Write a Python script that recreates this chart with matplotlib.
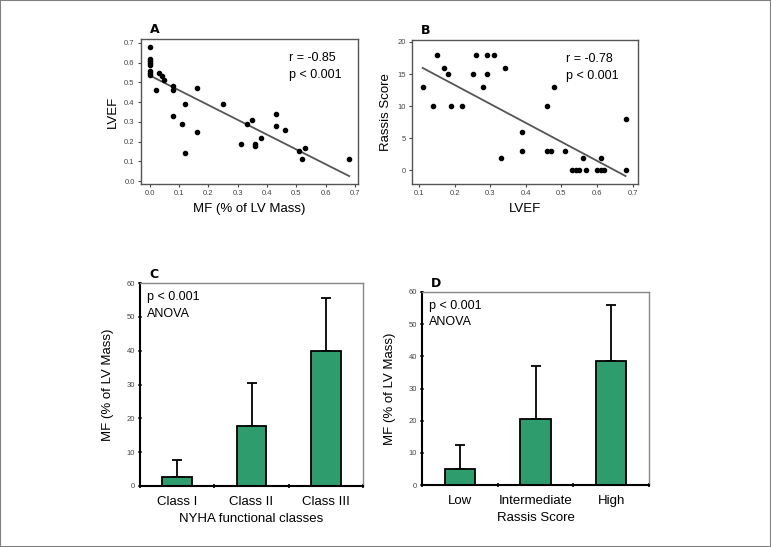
import matplotlib
matplotlib.use("Agg")
from matplotlib import pyplot as plt
from matplotlib.patches import Rectangle
import numpy as np

plt.rcParams['font.family'] = ['Liberation Sans Narrow', 'Liberation Sans', 'DejaVu Sans']

# panel A: MF vs LVEF
mf_a = [0, 0, 0, 0, 0, 0, 0, 0, 0.03, 0.04, 0.05, 0.02, 0.08, 0.08, 0.16, 0.12,
        0.08, 0.11, 0.16, 0.12, 0.25, 0.35, 0.33, 0.31, 0.36, 0.36, 0.38, 0.43,
        0.43, 0.46, 0.51, 0.52, 0.53, 0.68]
lvef_a = [0.68, 0.62, 0.61, 0.60, 0.59, 0.56, 0.55, 0.54, 0.55, 0.53, 0.51, 0.46,
          0.48, 0.46, 0.47, 0.39, 0.33, 0.29, 0.25, 0.14, 0.39, 0.31, 0.29, 0.19,
          0.19, 0.18, 0.22, 0.34, 0.28, 0.26, 0.15, 0.11, 0.17, 0.11]
fit_a = [0.535, -0.75]  # intercept, slope

# panel B: LVEF vs Rassis score
lvef_b = [0.11, 0.14, 0.15, 0.17, 0.18, 0.19, 0.22, 0.25, 0.26, 0.28, 0.29, 0.29,
          0.31, 0.33, 0.34, 0.39, 0.39, 0.46, 0.46, 0.47, 0.48, 0.51, 0.53, 0.54,
          0.55, 0.56, 0.57, 0.60, 0.61, 0.61, 0.62, 0.68, 0.68]
rassis_b = [13, 10, 18, 16, 15, 10, 10, 15, 18, 13, 18, 15, 18, 2, 16, 6, 3, 10, 3,
            3, 13, 3, 0, 0, 0, 2, 0, 0, 0, 2, 0, 8, 0]
fit_b = [19.2, -29.5]

# panel C
nyha = ['Class I', 'Class II', 'Class III']
mf_nyha = [2.7, 17.7, 40.0]
sd_nyha = [5.0, 12.8, 15.5]

# panel D
rassis_cls = ['Low', 'Intermediate', 'High']
mf_rassis = [5.0, 20.5, 38.5]
sd_rassis = [7.5, 16.5, 17.5]

W, H = 771, 547
fig = plt.figure(figsize=(W / 100, H / 100), dpi=100)
fig.patches.append(Rectangle((0, 0), 1, 1, transform=fig.transFigure, fill=False,
                             edgecolor='#808080', lw=1.5))


def box(l, t, r, b):
    return fig.add_axes([l / W, 1 - b / H, (r - l) / W, (b - t) / H])


green = '#2f9c6e'
gray = '#555555'
fs = 9


def scatter_panel(ax, x, y, fit, xr, letter, r, xlim, ylim, xt, yt, xl, yl, xfmt, yfmt):
    ax.scatter(x, y, s=9, color='black', zorder=3)
    xx = np.array(xr)
    ax.plot(xx, fit[0] + fit[1] * xx, color=gray, lw=1.3)
    ax.set_xlim(*xlim)
    ax.set_ylim(*ylim)
    ax.set_xticks(xt)
    ax.set_yticks(yt)
    ax.set_xticklabels([xfmt.format(v) for v in xt])
    ax.set_yticklabels([yfmt.format(v) for v in yt])
    for s in ax.spines.values():
        s.set_color(gray)
        s.set_linewidth(1.0)
    ax.tick_params(labelsize=5.5, colors='#444444', length=2.5, width=0.8, pad=2)
    ax.set_xlabel(xl, fontsize=fs + 0.5, labelpad=4)
    ax.set_ylabel(yl, fontsize=fs + 0.5, labelpad=4)
    ax.text(0.04, 1.02, letter, transform=ax.transAxes, fontsize=9, fontweight='bold',
            fontfamily='DejaVu Sans', va='bottom', ha='left')
    ax.text(0.68, 0.91, 'r = ' + r + '\np < 0.001', transform=ax.transAxes,
            fontsize=fs, va='top', ha='left', linespacing=1.6)


ax = box(141, 39, 358, 184)
scatter_panel(ax, mf_a, lvef_a, fit_a, [0, 0.68], 'A', '-0.85', (-0.03, 0.71),
              (-0.015, 0.72), np.arange(0, 0.71, 0.1), np.arange(0, 0.71, 0.1),
              'MF (% of LV Mass)', 'LVEF', '{:.1f}', '{:.1f}')

ax = box(412, 40, 638, 184)
scatter_panel(ax, lvef_b, rassis_b, fit_b, [0.11, 0.68], 'B', '-0.78', (0.08, 0.715),
              (-2.1, 20.3), np.arange(0.1, 0.71, 0.1), [0, 5, 10, 15, 20],
              'LVEF', 'Rassis Score', '{:.1f}', '{:d}')


def bar_panel(ax, cats, vals, sds, letter, xl):
    x = np.arange(len(cats))
    ax.bar(x, vals, width=0.4, color=green, edgecolor='black', lw=1.3, zorder=2)
    ax.errorbar(x, vals, yerr=[[0] * len(sds), sds], fmt='none', ecolor='black',
                elinewidth=1.3, capsize=3.5, capthick=1.3, zorder=1)
    ax.set_xlim(-0.5, 2.5)
    ax.set_ylim(0, 60)
    ax.set_xticks(x)
    ax.set_xticklabels(cats)
    ax.set_xticks([-0.5, 0.5, 1.5, 2.5], minor=True)
    ax.tick_params(axis='x', which='major', length=0, labelsize=fs + 0.5, pad=7)
    ax.tick_params(axis='x', which='minor', length=3, width=1.2, direction='inout')
    ax.set_yticks(range(0, 61, 10))
    ax.tick_params(axis='y', labelsize=5.5, colors='#444444', length=3, width=1.2,
                   direction='inout', pad=2)
    for k in ('left', 'bottom'):
        ax.spines[k].set_color('black')
        ax.spines[k].set_linewidth(1.5)
    for k in ('top', 'right'):
        ax.spines[k].set_color('#888888')
        ax.spines[k].set_linewidth(1.0)
    ax.set_xlabel(xl, fontsize=fs + 0.5, labelpad=4)
    ax.set_ylabel('MF (% of LV Mass)', fontsize=fs + 0.5, labelpad=9)
    ax.text(0.04, 1.01, letter, transform=ax.transAxes, fontsize=9, fontweight='bold',
            fontfamily='DejaVu Sans', va='bottom', ha='left')
    ax.text(0.03, 0.96, 'p < 0.001\nANOVA', transform=ax.transAxes, fontsize=fs,
            va='top', ha='left', linespacing=1.5)


ax = box(140, 283, 363, 486)
bar_panel(ax, nyha, mf_nyha, sd_nyha, 'C', 'NYHA functional classes')

ax = box(422, 292, 649, 485)
bar_panel(ax, rassis_cls, mf_rassis, sd_rassis, 'D', 'Rassis Score')

fig.savefig('out.png', dpi=100)
